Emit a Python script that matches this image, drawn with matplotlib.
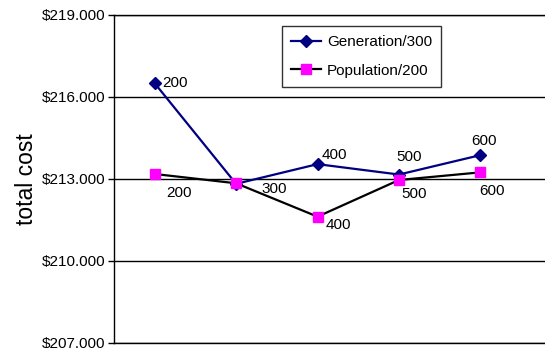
import matplotlib.pyplot as plt

plt.rcParams['font.family'] = ['Liberation Sans', 'DejaVu Sans']

# data (total cost in thousands)
runs = ['200', '300', '400', '500', '600']
generation = [216.50, 212.82, 213.54, 213.16, 213.87]
population = [213.18, 212.84, 211.62, 212.96, 213.24]
yticks = [207, 210, 213, 216, 219]

# label offsets in pixels (dx, dy)
gen_offsets = {0: (8, 0), 2: (4, 9), 3: (-3, 18), 4: (-9, 14)}
pop_offsets = {0: (12, -19), 1: (25, -6), 2: (8, -8), 3: (2, -14), 4: (-1, -19)}

fig = plt.figure(figsize=(5.45, 3.48), dpi=100)
ax = fig.add_axes([0.209, 0.0144, 0.822, 0.943])

x = list(range(len(runs)))
ax.plot(x, generation, color='#000080', lw=1.6, marker='D', ms=6.5,
        mfc='#000080', mec='#000080', label='Generation/300', zorder=3)
ax.plot(x, population, color='black', lw=1.6, marker='s', ms=7,
        mfc='#FF00FF', mec='#FF00FF', label='Population/200', zorder=3)

for i, (dx, dy) in gen_offsets.items():
    ax.annotate(runs[i], (x[i], generation[i]), xytext=(dx, dy),
                textcoords='offset pixels', ha='left', va='center', fontsize=11)
for i, (dx, dy) in pop_offsets.items():
    ax.annotate(runs[i], (x[i], population[i]), xytext=(dx, dy),
                textcoords='offset pixels', ha='left', va='center', fontsize=11)

ax.set_xlim(-0.5, 5.0)
ax.set_ylim(207, 219)
ax.set_yticks(yticks)
ax.set_yticklabels(['${:.3f}'.format(v) for v in yticks], fontsize=11)
ax.set_xticks([])
ax.yaxis.grid(True, color='black', lw=1)
ax.set_axisbelow(True)
ax.tick_params(axis='y', direction='out', length=4, width=1, pad=2)
for s in ['left', 'top', 'bottom', 'right']:
    ax.spines[s].set_color('black')
    ax.spines[s].set_linewidth(1)
ax.set_ylabel('total cost', fontsize=16.5, labelpad=3)

leg = ax.legend(loc='upper left', bbox_to_anchor=(0.517, 0.925),
                bbox_transform=fig.transFigure, fontsize=11, frameon=True,
                fancybox=False, shadow=False, borderaxespad=0,
                handlelength=2.0, handletextpad=0.35, labelspacing=0.95,
                borderpad=0.6)
leg.get_frame().set_edgecolor('black')
leg.get_frame().set_linewidth(1)

fig.savefig('out.png', dpi=100)
